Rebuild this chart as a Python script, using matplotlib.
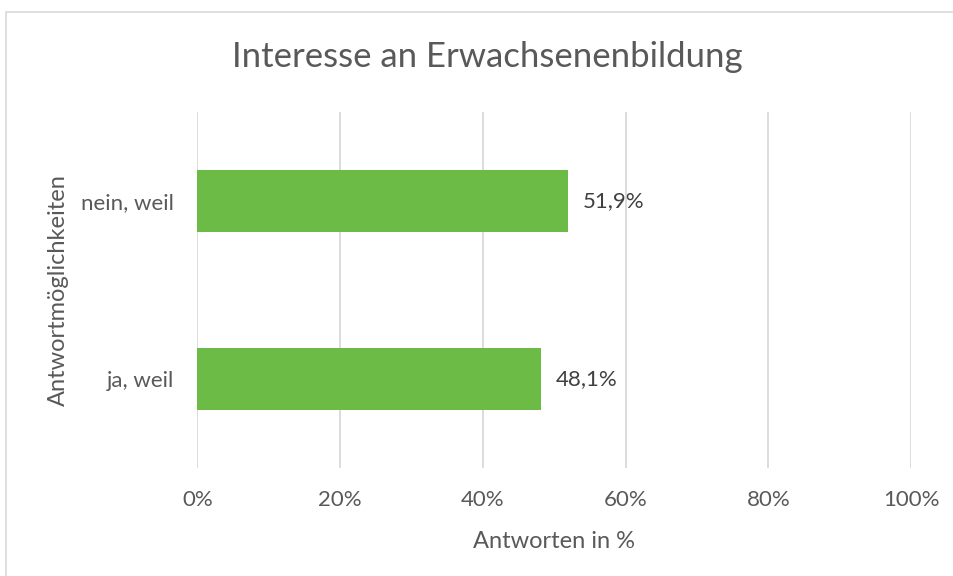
import matplotlib
matplotlib.use("Agg")
import matplotlib.pyplot as plt
from matplotlib.patches import Rectangle

categories = ["ja, weil", "nein, weil"]
values = [48.1, 51.9]
value_labels = ["48,1%", "51,9%"]
xticks = [0, 20, 40, 60, 80, 100]
xtick_labels = ["0%", "20%", "40%", "60%", "80%", "100%"]

plt.rcParams['font.family'] = ['Lato', 'DejaVu Sans']
txt = '#595959'
grid = '#d9d9d9'

fig = plt.figure(figsize=(9.54, 5.76), dpi=100)
ax = fig.add_axes([0.207, 0.1875, 0.748, 0.618])

ax.barh(range(len(categories)), values, height=0.35, color='#6bbb46', zorder=2)
for i, (v, lab) in enumerate(zip(values, value_labels)):
    ax.text(v + 2.1, i, lab, va='center', ha='left', fontsize=16, color='#404040')

ax.set_xlim(0, 100)
ax.set_ylim(-0.5, 1.5)
ax.set_xticks(xticks)
ax.set_xticklabels(xtick_labels)
ax.set_yticks(range(len(categories)))
ax.set_yticklabels(categories)
ax.tick_params(axis='both', length=0, labelsize=16, colors=txt)
ax.tick_params(axis='x', pad=16)
ax.tick_params(axis='y', pad=17)
ax.grid(axis='x', color=grid, linewidth=1.3, zorder=0)
for s in ax.spines.values():
    s.set_visible(False)

ax.set_xlabel("Antworten in %", fontsize=17, color=txt, labelpad=15)
ax.set_ylabel("Antwortmöglichkeiten", fontsize=17, color=txt, labelpad=9)
fig.text(0.511, 0.901, "Interesse an Erwachsenenbildung", ha='center', va='center',
         fontsize=25, color=txt)

# chart frame
fig.patches.append(Rectangle((6.5 / 954, -0.1), 1.2, 1 - 12.5 / 576 + 0.1,
                             transform=fig.transFigure, fill=False,
                             edgecolor=grid, linewidth=1.2))

fig.savefig("out.png", dpi=100)
